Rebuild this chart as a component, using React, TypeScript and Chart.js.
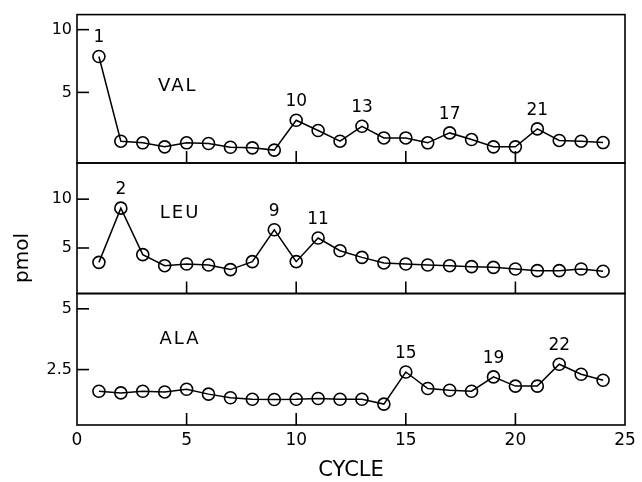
import { useEffect, useRef } from "react";
import { Chart, registerables } from "chart.js";

Chart.register(...registerables);

// ---- data ----
const cycles = [1, 2, 3, 4, 5, 6, 7, 8, 9, 10, 11, 12, 13, 14, 15, 16, 17, 18, 19, 20, 21, 22, 23, 24];
const valValues = [7.86, 1.11, 0.98, 0.66, 0.98, 0.93, 0.63, 0.58, 0.4, 2.78, 1.96, 1.11, 2.3, 1.37, 1.37, 0.98, 1.77, 1.24, 0.66, 0.66, 2.09, 1.17, 1.11, 1.0];
const leuValues = [3.53, 9.08, 4.32, 3.19, 3.36, 3.26, 2.79, 3.6, 6.87, 3.6, 6.02, 4.72, 4.04, 3.47, 3.36, 3.26, 3.19, 3.09, 3.02, 2.85, 2.68, 2.68, 2.85, 2.62];
const alaValues = [1.61, 1.54, 1.61, 1.58, 1.69, 1.49, 1.34, 1.28, 1.27, 1.28, 1.31, 1.28, 1.28, 1.08, 2.4, 1.72, 1.65, 1.61, 2.2, 1.82, 1.82, 2.72, 2.31, 2.06];
const valPeaks = [1, 10, 13, 17, 21];
const leuPeaks = [2, 9, 11];
const alaPeaks = [15, 19, 22];
const xTicks = [0, 5, 10, 15, 20, 25];
const valTicks = [5, 10];
const leuTicks = [5, 10];
const alaTicks = [2.5, 5];
const panelNames = ["VAL", "LEU", "ALA"];

const FONT = '"DejaVu Sans", sans-serif';

type Panel = {
  id: string;
  name: string;
  values: number[];
  peaks: number[];
  ticks: number[];
  min: number;
  max: number;
  weight: number;
  labelX: number;
  labelY: number;
};

// order: last defined is drawn at the top of the stack
const panels: Panel[] = [
  { id: "yAla", name: panelNames[2], values: alaValues, peaks: alaPeaks, ticks: alaTicks, min: 0.22, max: 5.63, weight: 132, labelX: 4.7, labelY: 3.74 },
  { id: "yLeu", name: panelNames[1], values: leuValues, peaks: leuPeaks, ticks: leuTicks, min: 0.34, max: 13.7, weight: 131, labelX: 4.7, labelY: 8.6 },
  { id: "yVal", name: panelNames[0], values: valValues, peaks: valPeaks, ticks: valTicks, min: -0.63, max: 11.2, weight: 149, labelX: 4.6, labelY: 5.5 },
];

const panelPlugin = {
  id: "panelDecor",
  afterDraw(chart: any) {
    const ctx = chart.ctx as CanvasRenderingContext2D;
    const { left, right } = chart.chartArea;
    const xs = chart.scales.x;
    ctx.save();
    ctx.strokeStyle = "#000";
    ctx.fillStyle = "#000";
    ctx.lineWidth = 1.6;
    const line = (x1: number, y1: number, x2: number, y2: number) => {
      ctx.beginPath();
      ctx.moveTo(x1, y1);
      ctx.lineTo(x2, y2);
      ctx.stroke();
    };
    panels.forEach((p) => {
      const ys = chart.scales[p.id];
      ctx.strokeRect(left, ys.top, right - left, ys.bottom - ys.top);
      p.ticks.forEach((v) => {
        const y = ys.getPixelForValue(v);
        line(left, y, left + 12, y);
      });
      xTicks
        .filter((v) => v > xs.min && v < xs.max)
        .forEach((v) => {
          const x = xs.getPixelForValue(v);
          line(x, ys.bottom, x, ys.bottom - 12);
        });
      ctx.textAlign = "center";
      ctx.textBaseline = "middle";
      ctx.font = `18px ${FONT}`;
      (ctx as any).letterSpacing = "2px";
      ctx.fillText(p.name, xs.getPixelForValue(p.labelX), ys.getPixelForValue(p.labelY));
      (ctx as any).letterSpacing = "0px";
      ctx.textBaseline = "bottom";
      ctx.font = `17px ${FONT}`;
      p.peaks.forEach((c) => {
        const v = p.values[c - 1];
        ctx.fillText(String(c), xs.getPixelForValue(c), ys.getPixelForValue(v) - 10);
      });
    });
    // y-axis title
    ctx.save();
    ctx.translate(28, 258);
    ctx.rotate(-Math.PI / 2);
    ctx.textAlign = "center";
    ctx.textBaseline = "alphabetic";
    ctx.font = `20px ${FONT}`;
    ctx.fillText("pmol", 0, 0);
    ctx.restore();
    ctx.restore();
  },
};

export default function App() {
  const ref = useRef<HTMLCanvasElement | null>(null);
  useEffect(() => {
    if (!ref.current) return;
    const scales: any = {
      x: {
        type: "linear",
        position: "bottom",
        min: 0,
        max: 25,
        grid: { display: false, drawTicks: false },
        border: { display: false },
        ticks: { color: "#000", font: { family: FONT, size: 17 }, padding: 5 },
        afterBuildTicks: (s: any) => {
          s.ticks = xTicks.map((v) => ({ value: v }));
        },
        afterFit: (s: any) => {
          s.height = 57;
        },
        title: {
          display: true,
          text: "CYCLE",
          color: "#000",
          font: { family: FONT, size: 21 },
          padding: { top: 0, bottom: -1 },
        },
      },
    };
    panels.forEach((p) => {
      scales[p.id] = {
        type: "linear",
        position: "left",
        stack: "panels",
        stackWeight: p.weight,
        min: p.min,
        max: p.max,
        grid: { display: false, drawTicks: false },
        border: { display: false },
        ticks: {
          color: "#000",
          font: { family: FONT, size: 16 },
          padding: 5,
          callback: (v: any) => String(v),
        },
        afterBuildTicks: (s: any) => {
          s.ticks = p.ticks.map((v) => ({ value: v }));
        },
        afterFit: (s: any) => {
          s.width = 77;
        },
      };
    });
    const chart = new Chart(ref.current, {
      type: "line",
      data: {
        datasets: panels.map((p) => ({
          label: p.name,
          yAxisID: p.id,
          data: cycles.map((c, i) => ({ x: c, y: p.values[i] })),
          borderColor: "#000",
          borderWidth: 1.5,
          pointRadius: 6,
          pointBorderWidth: 1.6,
          pointBorderColor: "#000",
          pointBackgroundColor: "rgba(0,0,0,0)",
          tension: 0,
          clip: false as any,
        })),
      },
      options: {
        animation: false,
        responsive: true,
        maintainAspectRatio: false,
        layout: { padding: { top: 13, right: 17, left: 0, bottom: 0 } },
        plugins: { legend: { display: false }, tooltip: { enabled: false } },
        scales,
      },
      plugins: [panelPlugin],
    });
    return () => chart.destroy();
  }, []);
  return (
    <div style={{ position: "fixed", left: 0, top: 0, width: 642, height: 482, background: "#fff" }}>
      <canvas ref={ref} />
    </div>
  );
}
